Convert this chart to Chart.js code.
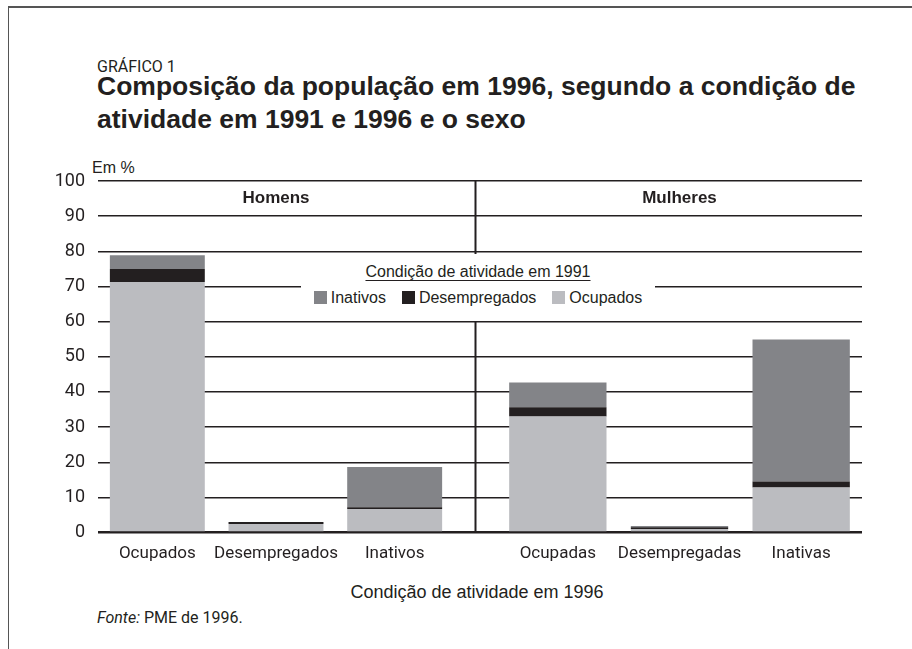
<!DOCTYPE html>
<html lang="pt-BR">
<head>
<meta charset="utf-8">
<script src="https://cdn.jsdelivr.net/npm/chart.js@4.4.1/dist/chart.umd.min.js"></script>
<style>
  body { margin: 0; background: #fff; }
  #frame { position: relative; width: 912px; height: 649px; overflow: hidden; color: #231f20;
    font-family: "Liberation Sans", Arial, sans-serif; }
  #border { position: absolute; left: 8px; top: 6px; width: 910px; height: 660px;
    border-top: 2px solid #555; border-left: 1.5px solid #555; }
  .narrow { font-family: Roboto, "DejaVu Sans Condensed", sans-serif; }
  #kicker { position: absolute; left: 97px; top: 57px; font-size: 16px; }
  #title { position: absolute; left: 97px; top: 70px; font-size: 26.5px; font-weight: bold; line-height: 33px; }
  #unit { position: absolute; left: 92px; top: 159px; font-size: 16px; }
  #chartBox { position: absolute; left: 0; top: 150px; width: 912px; height: 430px; }
  #legend { position: absolute; left: 301px; top: 254px; width: 354px; height: 67px; background: #fff;
    text-align: center; font-size: 16px; }
  #legend .ttl { margin-top: 9px; text-decoration: underline; text-underline-offset: 3px; }
  #legend .items { margin-top: 8px; }
  #legend .item { display: inline-block; margin: 0 8px; }
  #legend .sw { display: inline-block; width: 13px; height: 13px; margin-right: 4px; vertical-align: -1px; }
  #xtitle { position: absolute; left: 0; width: 954px; top: 582px; text-align: center; font-size: 18px; }
  #source { position: absolute; left: 97px; top: 608px; font-size: 16px; }
</style>
</head>
<body>
<div id="frame">
  <div id="border"></div>
  <div id="kicker" class="narrow">GRÁFICO 1</div>
  <div id="title">Composição da população em 1996, segundo a condição de<br>atividade em 1991 e 1996 e o sexo</div>
  <div id="unit">Em %</div>
  <div id="chartBox"><canvas id="chart"></canvas></div>
  <div id="legend"></div>
  <div id="xtitle">Condição de atividade em 1996</div>
  <div id="source" class="narrow"><i>Fonte:</i> PME de 1996.</div>
</div>
<script>
// Data
const grupos = ['Homens', 'Mulheres'];
const categoriasHomens = ['Ocupados', 'Desempregados', 'Inativos'];
const categoriasMulheres = ['Ocupadas', 'Desempregadas', 'Inativas'];
const series1991 = ['Ocupados', 'Desempregados', 'Inativos'];
const legendTitle = 'Condição de atividade em 1991';

const homensOcupados = [71.3, 2.4, 6.7];
const homensDesempregados = [3.7, 0.6, 0.5];
const homensInativos = [3.9, 0, 11.4];

const mulheresOcupadas = [33.0, 1.0, 12.8];
const mulheresDesempregadas = [2.6, 0.5, 1.7];
const mulheresInativas = [7.1, 0.35, 40.4];

const yMin = 0;
const yMax = 100;
const yStep = 10;

const colors = ['#bbbcc0', '#231f20', '#838488'];
const ink = '#231f20';
const narrowFont = 'Roboto, "DejaVu Sans Condensed", sans-serif';

const makeSet = (label, data, color, axis) => ({
  label: label,
  data: data,
  backgroundColor: color,
  borderWidth: 0,
  xAxisID: axis,
  yAxisID: 'y',
  grouped: false,
  barPercentage: 1,
  categoryPercentage: 0.8
});

const datasets = [
  makeSet(series1991[0], homensOcupados, colors[0], 'xH'),
  makeSet(series1991[1], homensDesempregados, colors[1], 'xH'),
  makeSet(series1991[2], homensInativos, colors[2], 'xH'),
  makeSet(series1991[0], mulheresOcupadas, colors[0], 'xM'),
  makeSet(series1991[1], mulheresDesempregadas, colors[1], 'xM'),
  makeSet(series1991[2], mulheresInativas, colors[2], 'xM')
];

// divider between the panels + panel headers
const panelPlugin = {
  id: 'panels',
  afterDatasetsDraw(chart) {
    const { ctx } = chart;
    const { xH, xM, y } = chart.scales;
    const xDiv = (xH.right + xM.left) / 2;
    ctx.save();
    ctx.strokeStyle = ink;
    ctx.lineWidth = 2;
    ctx.beginPath();
    ctx.moveTo(xDiv, y.getPixelForValue(yMax));
    ctx.lineTo(xDiv, y.getPixelForValue(yMin));
    ctx.stroke();
    ctx.fillStyle = ink;
    ctx.font = 'bold 17px "Liberation Sans", Arial, sans-serif';
    ctx.textAlign = 'center';
    ctx.textBaseline = 'middle';
    const yMid = y.getPixelForValue(yMax - yStep / 2);
    ctx.fillText(grupos[0], xH.getPixelForValue(1), yMid);
    ctx.fillText(grupos[1], xM.getPixelForValue(1), yMid);
    ctx.restore();
  }
};

const xAxis = (labels, weight) => ({
  type: 'category',
  labels: labels,
  position: 'bottom',
  stacked: true,
  stack: 'sexo',
  stackWeight: weight,
  offset: true,
  grid: { display: false },
  border: { display: false },
  ticks: {
    color: ink,
    padding: 3,
    maxRotation: 0,
    autoSkip: false,
    font: { family: narrowFont, size: 17 }
  },
  afterFit: (scale) => { scale.height = 40; }
});

const chart = new Chart(document.getElementById('chart'), {
  type: 'bar',
  data: { datasets: datasets },
  options: {
    responsive: true,
    maintainAspectRatio: false,
    animation: false,
    layout: { padding: { top: 31, right: 50, bottom: 7.5, left: 0 } },
    plugins: {
      legend: { display: false },
      tooltip: { enabled: false }
    },
    scales: {
      xH: xAxis(categoriasHomens, 356),
      xGap: {
        type: 'category',
        labels: [''],
        position: 'bottom',
        stack: 'sexo',
        stackWeight: 43,
        grid: { display: false },
        border: { display: false },
        ticks: { display: false },
        afterFit: (scale) => { scale.height = 40; }
      },
      xM: xAxis(categoriasMulheres, 365),
      y: {
        stacked: true,
        min: yMin,
        max: yMax,
        border: { display: false },
        grid: {
          color: ink,
          lineWidth: (c) => (c.tick && c.tick.value === 0 ? 2.6 : 1.4),
          drawTicks: false
        },
        ticks: {
          stepSize: yStep,
          color: ink,
          padding: 13,
          font: { family: narrowFont, size: 18 }
        },
        afterFit: (scale) => { scale.width = 98; }
      }
    }
  },
  plugins: [panelPlugin]
});

// html legend built from the chart's own datasets
const legendEl = document.getElementById('legend');
const items = chart.data.datasets.slice(0, 3).reverse().map(ds =>
  `<span class="item"><span class="sw" style="background:${ds.backgroundColor}"></span>${ds.label}</span>`
).join('');
legendEl.innerHTML = `<div class="ttl">${legendTitle}</div><div class="items">${items}</div>`;
</script>
</body>
</html>
